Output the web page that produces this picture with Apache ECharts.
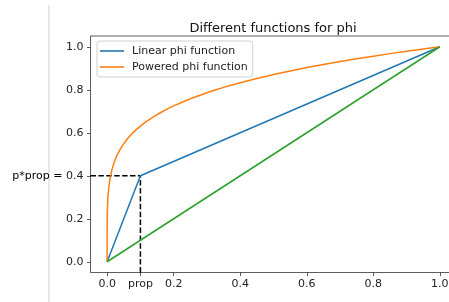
<!DOCTYPE html>
<html>
<head>
<meta charset="utf-8">
<script src="https://cdn.jsdelivr.net/npm/echarts@6/dist/echarts.min.js"></script>
<style>
  html, body { margin: 0; padding: 0; background: #fff; }
  #chart { width: 449px; height: 302px; }
</style>
</head>
<body>
<div id="chart"></div>
<script>
// tick positions
var xTicks = [0, 0.1, 0.2, 0.4, 0.6, 0.8, 1.0];
var yTicks = [0, 0.2, 0.4, 0.6, 0.8, 1.0];

// prop and p*prop
var prop = 0.1;
var pProp = 0.4;

// linear phi function
var linearX = [0, 0.1, 1];
var linearY = [0, 0.4, 1];

// powered phi function
var poweredX = [0, 0.0002, 0.0005, 0.001, 0.002, 0.003, 0.006, 0.008, 0.01, 0.015, 0.02, 0.025, 0.03,
    0.035, 0.04, 0.05, 0.06, 0.07, 0.085, 0.1, 0.115, 0.13, 0.145, 0.16, 0.18, 0.2, 0.225, 0.25,
    0.275, 0.3, 0.325, 0.35, 0.375, 0.4, 0.45, 0.5, 0.55, 0.6, 0.65, 0.7, 0.75, 0.8, 0.85, 0.9,
    0.95, 1.0];
var poweredY = [0, 0.182, 0.218, 0.251, 0.289, 0.313, 0.359, 0.381, 0.398, 0.432, 0.457, 0.478, 0.496,
    0.511, 0.525, 0.549, 0.570, 0.588, 0.611, 0.631, 0.649, 0.665, 0.680, 0.693, 0.710, 0.725, 0.742, 0.758,
    0.772, 0.786, 0.799, 0.811, 0.822, 0.833, 0.852, 0.871, 0.887, 0.903, 0.917, 0.931, 0.944, 0.956, 0.968, 0.979,
    0.990, 1.0];

// diagonal
var diagX = [0, 1];
var diagY = [0, 1];

var xMin = -0.05, xMax = 1.05, yMin = -0.05, yMax = 1.05;

function pairs(xs, ys) {
    return xs.map(function (x, i) { return [x, ys[i]]; });
}

var font = 'DejaVu Sans';
var chart = echarts.init(document.getElementById('chart'));

var option = {
    animation: false,
    backgroundColor: '#fff',
    title: {
        text: 'Different functions for phi',
        left: 268,
        top: 17,
        textAlign: 'center',
        textStyle: { fontFamily: font, fontSize: 13, fontWeight: 'normal', color: '#111' }
    },
    legend: {
        orient: 'vertical',
        left: 97,
        top: 41,
        padding: [3.5, 5, 3.5, 3],
        itemGap: 3,
        itemWidth: 24,
        itemHeight: 1.6,
        icon: 'rect',
        backgroundColor: 'rgba(255,255,255,0.8)',
        borderColor: '#d0d0d0',
        borderWidth: 1,
        borderRadius: 3,
        data: ['Linear phi function', 'Powered phi function'],
        textStyle: { fontFamily: font, fontSize: 11, color: '#222', lineHeight: 13, padding: [0, 0, 0, 3] }
    },
    grid: {
        left: 90.5,
        top: 36,
        width: 366,
        height: 236.5,
        outerBoundsMode: 'none',
        containLabel: false,
        show: true,
        borderColor: '#333',
        borderWidth: 0.8
    },
    graphic: [{
        type: 'line',
        shape: { x1: 49, y1: 5, x2: 49, y2: 302 },
        style: { stroke: '#cfcfcf', lineWidth: 1 }
    }],
    xAxis: {
        type: 'value',
        min: xMin,
        max: xMax,
        splitLine: { show: false },
        axisLine: { show: false, onZero: false },
        axisTick: { show: true, length: 3.5, lineStyle: { color: '#333', width: 0.8 }, customValues: xTicks },
        axisLabel: {
            customValues: xTicks,
            margin: 6.5,
            fontFamily: font,
            fontSize: 11,
            color: '#222',
            formatter: function (v) {
                if (Math.abs(v - prop) < 1e-9) return 'prop';
                return v.toFixed(1);
            }
        }
    },
    yAxis: {
        type: 'value',
        min: yMin,
        max: yMax,
        splitLine: { show: false },
        axisLine: { show: false, onZero: false },
        axisTick: { show: true, length: 3.5, lineStyle: { color: '#333', width: 0.8 }, customValues: yTicks },
        axisLabel: {
            customValues: yTicks,
            margin: 7,
            fontFamily: font,
            fontSize: 11,
            color: '#222',
            formatter: function (v) {
                if (Math.abs(v - pProp) < 1e-9) return '{p|p*prop = }' + v.toFixed(1);
                return v.toFixed(1);
            },
            rich: {
                p: { fontFamily: font, fontSize: 11, color: '#000' }
            }
        }
    },
    series: [
        {
            name: 'Linear phi function',
            type: 'line',
            data: pairs(linearX, linearY),
            symbol: 'none',
            z: 4,
            lineStyle: { color: '#1f77b4', width: 1.5 },
            itemStyle: { color: '#1f77b4' }
        },
        {
            name: 'Powered phi function',
            type: 'line',
            data: pairs(poweredX, poweredY),
            symbol: 'none',
            z: 4,
            lineStyle: { color: '#ff7f0e', width: 1.5 },
            itemStyle: { color: '#ff7f0e' }
        },
        {
            name: 'diagonal',
            type: 'line',
            data: pairs(diagX, diagY),
            symbol: 'none',
            z: 4,
            lineStyle: { color: '#2ca02c', width: 1.5 },
            itemStyle: { color: '#2ca02c' }
        },
        {
            name: 'vline',
            type: 'line',
            data: [[prop, yMin], [prop, pProp]],
            symbol: 'none',
            z: 3,
            lineStyle: { color: '#000', width: 1.5, type: [5.5, 2.4] }
        },
        {
            name: 'hline',
            type: 'line',
            data: [[xMin, pProp], [prop, pProp]],
            symbol: 'none',
            z: 3,
            lineStyle: { color: '#000', width: 1.5, type: [5.5, 2.4] }
        }
    ]
};

chart.setOption(option);
</script>
</body>
</html>
